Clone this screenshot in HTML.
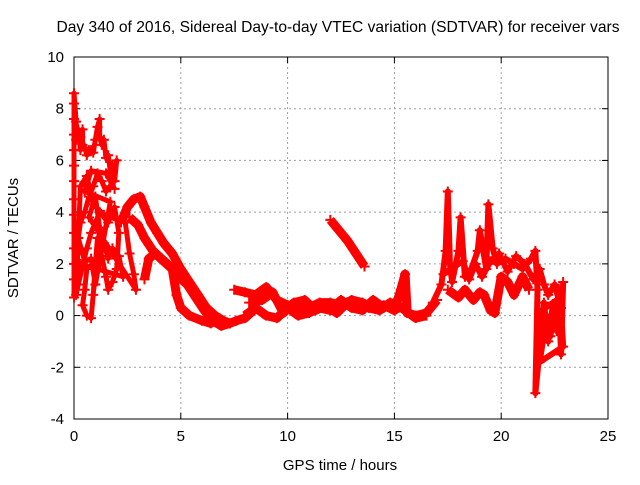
<!DOCTYPE html>
<html><head><meta charset="utf-8"><style>
body{margin:0;background:#fff}
svg text{font-family:"Liberation Sans",sans-serif;font-size:15px;fill:#000}
</style></head><body>
<svg width="640" height="480" id="c">
<rect width="640" height="480" fill="#fff"/>
<g id="grid"></g><g id="axes"></g><g id="data"></g>
<text x="338" y="32" text-anchor="middle" style="font-size:15.6px">Day 340 of 2016, Sidereal Day-to-day VTEC variation (SDTVAR) for receiver vars</text>
<text x="340" y="470" text-anchor="middle">GPS time / hours</text>
<text x="0" y="0" text-anchor="middle" transform="translate(18,238) rotate(-90)">SDTVAR / TECUs</text>
</svg>
<script>
const xTicks=[0,5,10,15,20,25];
const yTicks=[-4,-2,0,2,4,6,8,10];
const trackMain=[[2.2,3.6],[2.5,4.2],[2.8,4.5],[3.1,4.6],[3.3,4.2],[3.6,3.6],[3.9,3.2],[4.2,2.8],[4.6,2.4],[5.0,1.8],[5.4,1.3],[5.8,0.8],[6.2,0.3],[6.6,0],[7.0,-0.2],[7.3,-0.3],[7.6,-0.2],[8.0,-0.1],[8.4,0.2]];
const track2=[[2.6,3.8],[3.0,3.5],[3.3,3.0],[3.7,2.5],[4.1,2.2],[4.5,1.9],[4.9,1.5],[5.3,1.2],[5.7,0.7],[6.1,0.2],[6.5,-0.2],[6.9,-0.4],[7.3,-0.3]];
const track3=[[3.3,1.4],[3.5,2.2],[3.8,2.4],[4.2,2.1],[4.6,1.8],[4.8,0.8],[5.0,0.3],[5.4,0.0],[6.0,-0.2],[6.4,-0.3],[6.8,-0.1]];
const trackEarly=[[0,0.7],[0,1.4],[0,2],[0,2.6],[0,3.2],[0,3.9],[0,4.5],[0,5.2],[0,5.8],[0,6.4],[0,7],[0,7.6],[0,8.2],[0,8.6],[0.1,7.5],[0.1,6.8],[0.2,6.8],[0.2,7.2],[0.3,6.4],[0.3,6.9],[0.4,7.2],[0.4,6.6],[0.5,6.5],[0.6,6.2],[0.7,6.4],[0.8,6.4],[0.9,6.3],[1.0,6.8],[1.1,7.3],[1.2,7.6],[1.2,6.9],[1.3,6.6],[1.4,6.8],[1.5,6.1],[1.6,6.2],[1.7,5.6],[1.8,5.8],[1.9,5.2],[2.0,6.0],[1.7,5.0],[1.5,4.8],[1.3,5.2],[1.1,5.5],[0.9,5.0],[0.7,4.6],[0.5,4.0],[0.3,3.6],[0.2,3.0],[0.4,2.4],[0.6,1.8],[0.5,1.0],[0.4,0.4],[0.6,0.0],[0.8,-0.1],[0.9,0.8],[1.0,2.0],[1.1,3.0],[1.3,2.3],[1.5,1.5],[1.6,1.0],[1.8,1.3],[2.0,1.8],[2.1,3.2],[1.9,4.2],[1.6,3.6],[1.2,4.0],[0.8,3.2],[0.6,2.6],[0.2,1.2],[0.1,0.8],[0.3,5.0],[0.6,5.4],[0.9,4.3],[1.4,3.9],[2.4,3.6],[2.6,2.4],[2.8,1.6],[2.9,1.0],[0.7,3.8],[1.0,4.6],[1.2,3.4],[1.4,2.8],[1.6,2.2],[1.8,2.6],[2.1,2.3],[2.3,1.5],[0.3,2.0],[0.8,2.2],[1.0,1.2],[1.7,4.4],[0.5,4.8],[0.8,5.6],[1.5,5.5],[1.9,4.9]];
const trackMid=[[7.5,1.0],[8,0.9],[8.5,0.8],[9,1.1],[9.5,0.6],[10,0.4],[10.5,0.2],[11,0.3],[11.5,0.5],[12,0.5],[12.5,0.4],[13,0.6],[13.5,0.5],[14,0.3],[14.5,0.4],[15,0.2],[15.3,1.0],[15.5,1.6],[15.6,0.1],[16,0],[16.5,0.1],[17,0.6]];
const trackMid2=[[8,0],[8.5,0.3],[9,0],[9.5,-0.1],[10,0.3],[10.5,0],[11,0.1],[11.5,0.3],[12,0.2],[12.5,0.6],[13,0.3],[13.5,0.2],[14,0.6],[14.5,0.3],[15,0.5],[15.5,0.2],[16,-0.1],[16.5,0.0]];
const trackMid3=[[8.2,0.5],[8.8,0.6],[9.3,0.9],[9.8,0.1],[10.3,0.5],[10.8,0.6],[11.3,0.2],[11.8,0.4],[12.3,0.1],[12.8,0.5],[13.3,0.4],[13.8,0.3],[14.3,0.2],[14.8,0.5],[15.2,0.3]];
const trackArc=[[12,3.7],[12.4,3.3],[12.8,2.9],[13.2,2.4],[13.6,1.9]];
const trackLate=[[16.8,0.5],[17.2,1.2],[17.4,2.5],[17.5,4.8],[17.6,2.0],[17.7,1.3],[18.0,2.5],[18.1,3.8],[18.3,1.5],[18.6,1.8],[18.9,2.5],[19.0,3.3],[19.3,1.8],[19.4,4.3],[19.6,2.6],[19.8,2.0],[20.2,2.2],[20.6,2.0],[21.0,1.8],[21.4,2.2],[21.6,2.5],[21.7,1.0],[21.6,-3.0],[21.9,-0.5],[22.0,0.5],[22.2,-1.0],[22.4,0.3],[22.6,-0.6],[22.7,1.0],[22.8,-1.5],[22.9,1.3]];
const trackLate2=[[17.3,1.6],[17.8,1.9],[18.2,2.1],[18.5,1.4],[18.8,2.0],[19.1,1.5],[19.5,2.1],[19.9,2.4],[20.3,1.7],[20.7,2.3],[21.1,2.0],[21.5,1.4],[21.8,1.8],[22.0,1.2],[22.2,0.8],[22.5,1.2],[22.8,0.3],[22.9,-1.2],[21.8,-1.8],[22.1,-0.2],[22.3,-0.8],[22.6,0.6],[21.9,0.2],[22.4,-0.3]];
const trackLow=[[17.5,1.0],[18.0,0.7],[18.3,1.0],[18.7,0.6],[19.0,0.9],[19.2,0.8],[19.5,0.2],[19.7,0.1],[20.0,1.5],[20.3,1.3],[20.6,0.8],[21.0,1.5],[21.3,1.0]];
const tracks=[trackMain,track2,track3,trackEarly,trackMid,trackMid2,trackMid3,trackArc,trackLate,trackLate2,trackLow];
const X0=74,X1=608,Y0=419,Y1=57;
const sx=v=>X0+(v-0)/(25-0)*(X1-X0);
const sy=v=>Y0-(v+4)/(14)*(Y0-Y1);
const NS="http://www.w3.org/2000/svg";
const g=document.getElementById('grid'),a=document.getElementById('axes'),d=document.getElementById('data');
function mk(tag,attrs,p){const e=document.createElementNS(NS,tag);for(const k in attrs)e.setAttribute(k,attrs[k]);p.appendChild(e);return e;}
xTicks.forEach(t=>{const x=sx(t);
 if(t>0&&t<25){const l=mk('line',{x1:x,x2:x,y1:Y1,y2:Y0,stroke:'#a0a0a0','stroke-dasharray':'2,3'},g);
 
 }
 mk('line',{x1:x,x2:x,y1:Y0,y2:Y0-6,stroke:'#000'},a);
 mk('line',{x1:x,x2:x,y1:Y1,y2:Y1+6,stroke:'#000'},a);
 const tx=mk('text',{x:x,y:Y0+22,'text-anchor':'middle'},a);tx.textContent=t;
 
 });
yTicks.forEach(t=>{const y=sy(t);
 if(t>-4&&t<10){const l=mk('line',{x1:X0,x2:X1,y1:y,y2:y,stroke:'#a0a0a0','stroke-dasharray':'2,3'},g);
 
 }
 mk('line',{x1:X0,x2:X0+6,y1:y,y2:y,stroke:'#000'},a);
 mk('line',{x1:X1,x2:X1-6,y1:y,y2:y,stroke:'#000'},a);
 const tx=mk('text',{x:X0-10,y:y+5,'text-anchor':'end'},a);tx.textContent=t;
 
 });
const fr=mk('rect',{x:X0,y:Y1,width:X1-X0,height:Y0-Y1,fill:'none',stroke:'#000'},a);


tracks.forEach((tr,i)=>{
 if(tr!==trackEarly&&tr!==trackLate&&tr!==trackLate2){const pl=mk('polyline',{points:tr.map(p=>sx(p[0])+','+sy(p[1])).join(' '),fill:'none',stroke:'#f00','stroke-width':9,'stroke-linejoin':'round'},d);
 
 }
 tr.forEach(p=>{const x=sx(p[0]),y=sy(p[1]);
  const m=mk('path',{d:`M${x-5},${y}h10M${x},${y-5}v10`,stroke:'#f00','stroke-width':2},d);
  
  });
});
const late=mk('polyline',{points:trackLate.map(p=>sx(p[0])+','+sy(p[1])).join(' '),fill:'none',stroke:'#f00','stroke-width':6,'stroke-linejoin':'round'},d);


const late2=mk('polyline',{points:trackLate2.map(p=>sx(p[0])+','+sy(p[1])).join(' '),fill:'none',stroke:'#f00','stroke-width':6,'stroke-linejoin':'round'},d);


const early=mk('polyline',{points:trackEarly.map(p=>sx(p[0])+','+sy(p[1])).join(' '),fill:'none',stroke:'#f00','stroke-width':5,'stroke-linejoin':'round'},d);


</script>
</body></html>
